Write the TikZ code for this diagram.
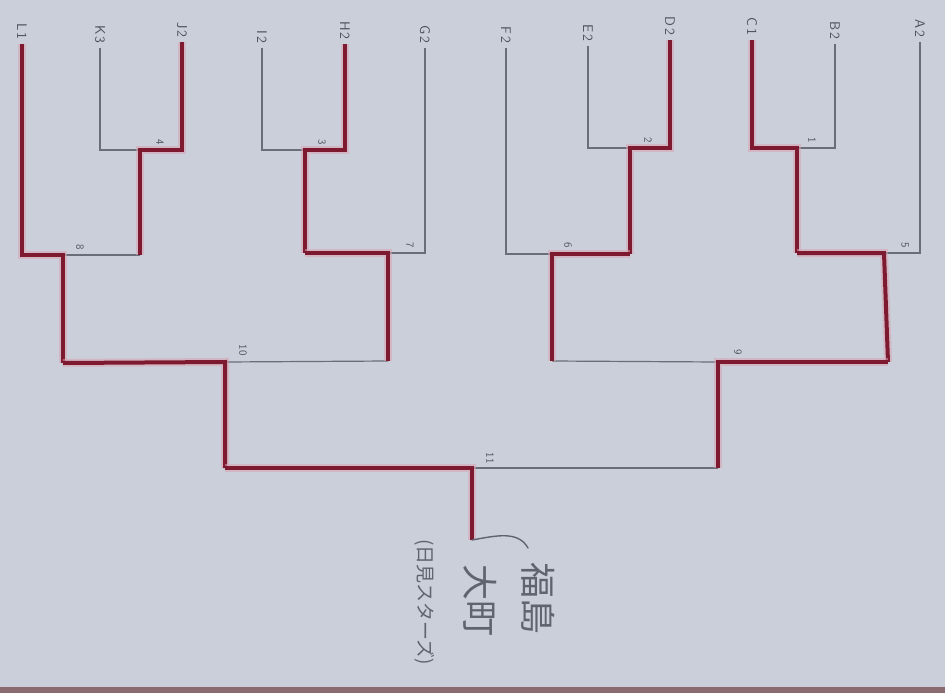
\documentclass[tikz,border=0pt]{standalone}
\usepackage{fontspec}
\newfontfamily\cjk{Noto Sans CJK JP}
\definecolor{paper}{HTML}{CBCFD9}
\definecolor{thin}{HTML}{6A6E79}
\definecolor{win}{HTML}{7E1A30}
\definecolor{glow}{HTML}{D9A3B2}
\definecolor{labc}{HTML}{4E525B}
\definecolor{hand}{HTML}{60646F}
\definecolor{edge}{HTML}{8A6C70}
\begin{document}
\begin{tikzpicture}[x=1pt,y=-1pt,
  thinline/.style={draw=thin,line width=1.2pt},
  winline/.style={draw=win,line width=4pt,line join=miter,
    preaction={draw=glow,line width=8pt,opacity=0.55}},
  lab/.style={font=\sffamily\fontsize{14}{15}\selectfont,text=labc,rotate=-90,
    anchor=east,inner sep=0pt,inner xsep=4pt},
  mlab/.style={font=\sffamily\fontsize{11}{12}\selectfont,text=labc,rotate=-90,inner sep=0pt},
  handtxt/.style={text=hand,rotate=-90,inner sep=0pt}]
\fill[paper] (0,0) rectangle (945,693);
\useasboundingbox (0,0) rectangle (945,693);
\fill[edge] (0,687) rectangle (945,693);
% leaves
\node[lab] (lL) at (22,44) {L\,1};
\node[lab] (lK) at (100,48) {K\,3};
\node[lab] (lJ) at (182,42) {J\,2};
\node[lab] (lI) at (262,48) {I\,2};
\node[lab] (lH) at (345,44) {H\,2};
\node[lab] (lG) at (425,48) {G\,2};
\node[lab] (lF) at (506,48) {F\,2};
\node[lab] (lE) at (588,46) {E\,2};
\node[lab] (lD) at (670,40) {D\,2};
\node[lab] (lC) at (752,40) {C\,1};
\node[lab] (lB) at (835,44) {B\,2};
\node[lab] (lA) at (920,42) {A\,2};
% match points
\coordinate (c1) at (797,148);  \coordinate (w1) at (797,253);
\coordinate (c2) at (630,148);  \coordinate (w2) at (630,254);
\coordinate (c3) at (305,150);  \coordinate (w3) at (305,253);
\coordinate (c4) at (140,150);  \coordinate (w4) at (140,255);
\coordinate (c5) at (884,253);  \coordinate (w5) at (888,362);
\coordinate (c6) at (552,254);  \coordinate (w6) at (552,361);
\coordinate (c7) at (388,253);  \coordinate (w7) at (388,361);
\coordinate (c8) at (63,255);   \coordinate (w8) at (63,363);
\coordinate (c9) at (718,362);  \coordinate (w9) at (718,468);
\coordinate (c10) at (225,362); \coordinate (w10) at (225,468);
\coordinate (c11) at (472,468); \coordinate (champ) at (472,540);
% losing lines
\draw[thinline] (lB.east) |- (c1);
\draw[thinline] (lE.east) |- (c2);
\draw[thinline] (lI.east) |- (c3);
\draw[thinline] (lK.east) |- (c4);
\draw[thinline] (lA.east) |- (c5);
\draw[thinline] (lF.east) |- (c6);
\draw[thinline] (lG.east) |- (c7);
\draw[thinline] (w4) -- (c8);
\draw[thinline] (w6) -- (c9);
\draw[thinline] (w7) -- (c10);
\draw[thinline] (w9) -- (c11);
% winning lines
\draw[winline] (lC.east) |- (c1) -- (w1);
\draw[winline] (lD.east) |- (c2) -- (w2);
\draw[winline] (lH.east) |- (c3) -- (w3);
\draw[winline] (lJ.east) |- (c4) -- (w4);
\draw[winline] (w1) -- (c5) -- (w5);
\draw[winline] (w2) -- (c6) -- (w6);
\draw[winline] (w3) -- (c7) -- (w7);
\draw[winline] (lL.east) |- (c8) -- (w8);
\draw[winline] (w5) -- (c9) -- (w9);
\draw[winline] (w8) -- (c10) -- (w10);
\draw[winline] (w10) -- (c11) -- (champ);
% match numbers
\node[mlab] (n1) at (812,140) {1};
\node[mlab] (n2) at (648,140) {2};
\node[mlab] (n3) at (322,142) {3};
\node[mlab] (n4) at (160,142) {4};
\node[mlab] (n5) at (905,245) {5};
\node[mlab] (n6) at (568,245) {6};
\node[mlab] (n7) at (410,245) {7};
\node[mlab] (n8) at (80,247) {8};
\node[mlab] (n9) at (738,352) {9};
\node[mlab] (n10) at (243,350) {10};
\node[mlab] (n11) at (490,458) {11};
% handwritten winner
\draw[draw=hand,line width=1.4pt,line cap=round] (champ) .. controls (495,536) and (518,530) .. (528,548);
\node[handtxt,font=\cjk\fontsize{36}{40}\selectfont] (t1) at (538,598) {福島};
\node[handtxt,font=\cjk\fontsize{36}{40}\selectfont] (t2) at (480,600) {大町};
\node[handtxt,font=\cjk\fontsize{19}{22}\selectfont] (t3) at (425,602) {(日見スターズ)};
\end{tikzpicture}
\end{document}
